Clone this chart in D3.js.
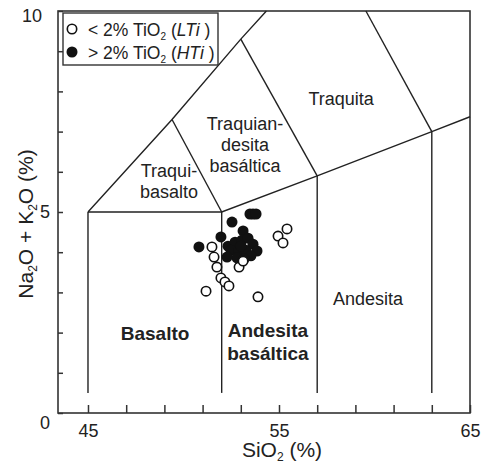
<!DOCTYPE html>
<html>
<head>
<meta charset="utf-8">
<script src="https://cdn.jsdelivr.net/npm/d3@7"></script>
<style>
    body { margin: 0; background: #fff; }
    text { font-family: Arial, 'Liberation Sans', sans-serif; fill: #222; }
</style>
</head>
<body>
<script>
    // samples, SiO2 (%) vs Na2O + K2O (%)
    const ltiSiO2 = [51.49, 51.60, 51.75, 51.96, 52.17, 52.38, 51.18, 52.91, 53.12, 53.90, 54.95, 55.21, 55.42];
    const ltiAlk  = [4.13, 3.88, 3.63, 3.36, 3.26, 3.16, 3.03, 3.63, 3.78, 2.89, 4.40, 4.23, 4.58];
    const htiSiO2 = [53.48, 53.64, 53.80, 52.54, 51.96, 50.81, 53.12, 52.33, 52.70, 53.06, 53.38,
                     53.64, 53.85, 52.49, 52.91, 53.27, 53.53, 52.80, 53.17, 52.28, 53.01];
    const htiAlk  = [4.95, 4.95, 4.95, 4.75, 4.38, 4.13, 4.53, 4.15, 4.25, 4.30, 4.35,
                     4.20, 4.03, 4.05, 4.03, 4.05, 3.91, 3.86, 3.83, 3.88, 4.15];

    // TAS field boundaries (SiO2, alkalis)
    const fieldLines = [
        [[45, 0.5], [45, 5]],
        [[52, 0.5], [52, 5]],
        [[57, 0.5], [57, 5.9]],
        [[63, 0.5], [63, 7]],
        [[45, 5], [52, 5], [57, 5.9], [63, 7], [65, 7.37]],
        [[45, 5], [49.4, 7.3], [53, 9.3], [54.34, 10]],
        [[52, 5], [49.4, 7.3]],
        [[57, 5.9], [53, 9.3]],
        [[63, 7], [59.55, 10]]
    ];

    const fieldNames = [['Traqui-', 'basalto'], ['Traquian-', 'desita', 'basáltica'], ['Traquita'],
                        ['Andesita'], ['Basalto'], ['Andesita', 'basáltica']];
    const fieldBold = [false, false, false, false, true, true];
    const fieldAt = [[49.24, 5.87], [53.22, 7.04], [58.25, 7.66], [59.66, 2.69], [48.51, 1.82], [54.42, 1.89]];

    const xTicks = d3.range(45, 66, 2);
    const xLabels = [45, 55, 65];
    const yTicks = d3.range(0, 11, 1);
    const yLabels = [0, 5, 10];

    const measurements = { width: 482, height: 468 };

    let svg = d3.select('body')
        .append('svg')
        .attr('width', measurements.width)
        .attr('height', measurements.height);

    let x = d3.scaleLinear().domain([43.43, 65]).range([58, 470]);
    let y = d3.scaleLinear().domain([0, 10]).range([413, 11]);

    // x axis, ticks pointing inward
    let xAxis = svg.append('g')
        .attr('transform', 'translate(0,' + y(0) + ')')
        .call(d3.axisBottom(x)
            .tickValues(xTicks)
            .tickSize(-8)
            .tickPadding(11)
            .tickFormat(d => xLabels.includes(d) ? d : ''));
    xAxis.select('.domain').remove();
    xAxis.selectAll('line').attr('stroke', '#333').attr('stroke-width', 1.5);
    xAxis.selectAll('text').attr('font-size', 18).attr('fill', '#222')
        .attr('font-family', 'Arial, Liberation Sans, sans-serif');

    let yAxis = svg.append('g')
        .attr('transform', 'translate(' + x.range()[0] + ',0)')
        .call(d3.axisLeft(y)
            .tickValues(yTicks)
            .tickSize(-5)
            .tickPadding(8)
            .tickFormat(d => yLabels.includes(d) ? d : ''));
    yAxis.select('.domain').remove();
    yAxis.selectAll('line').attr('stroke', '#333').attr('stroke-width', 1.5);
    yAxis.selectAll('text').attr('font-size', 18).attr('fill', '#222')
        .attr('font-family', 'Arial, Liberation Sans, sans-serif');
    // nudge the end labels the way the original sits them
    yAxis.selectAll('.tick').filter(d => d === 0).select('text').attr('y', 10);
    yAxis.selectAll('.tick').filter(d => d === 10).select('text').attr('y', 5).attr('x', -16);

    // frame
    svg.append('rect')
        .attr('x', x.range()[0])
        .attr('y', y.range()[1])
        .attr('width', x.range()[1] - x.range()[0])
        .attr('height', y.range()[0] - y.range()[1])
        .attr('fill', 'none')
        .attr('stroke', '#333')
        .attr('stroke-width', 1.6);

    // field boundaries
    let line = d3.line().x(d => x(d[0])).y(d => y(d[1]));
    svg.append('g').selectAll('path')
        .data(fieldLines)
        .enter()
        .append('path')
        .attr('d', line)
        .attr('fill', 'none')
        .attr('stroke', '#222')
        .attr('stroke-width', 1.4);

    // field names
    let names = svg.append('g').selectAll('text')
        .data(fieldNames)
        .enter()
        .append('text')
        .attr('text-anchor', 'middle')
        .attr('font-size', (d, i) => fieldBold[i] ? 19 : 18)
        .attr('font-weight', (d, i) => fieldBold[i] ? 'bold' : 'normal')
        .attr('x', (d, i) => x(fieldAt[i][0]))
        .attr('y', (d, i) => y(fieldAt[i][1]));
    names.each(function(d, i) {
        let t = d3.select(this);
        d.forEach((s, k) => {
            t.append('tspan')
                .attr('x', x(fieldAt[i][0]))
                .attr('dy', k === 0 ? 0 : (fieldBold[i] ? 23 : 21))
                .text(s);
        });
    });

    // samples
    let hti = htiSiO2.map((v, i) => [v, htiAlk[i]]);
    let lti = ltiSiO2.map((v, i) => [v, ltiAlk[i]]);

    svg.append('g').selectAll('circle')
        .data(hti)
        .enter()
        .append('circle')
        .attr('cx', d => x(d[0]))
        .attr('cy', d => y(d[1]))
        .attr('r', 5.5)
        .attr('fill', '#111');

    svg.append('g').selectAll('circle')
        .data(lti)
        .enter()
        .append('circle')
        .attr('cx', d => x(d[0]))
        .attr('cy', d => y(d[1]))
        .attr('r', 4.7)
        .attr('fill', '#fff')
        .attr('stroke', '#111')
        .attr('stroke-width', 1.6);

    // legend
    let legend = svg.append('g');
    legend.append('rect')
        .attr('x', 63).attr('y', 13)
        .attr('width', 155).attr('height', 52)
        .attr('fill', '#fff')
        .attr('stroke', '#333')
        .attr('stroke-width', 1.4);
    legend.append('circle').attr('cx', 72).attr('cy', 29).attr('r', 4.7)
        .attr('fill', '#fff').attr('stroke', '#111').attr('stroke-width', 1.6);
    legend.append('circle').attr('cx', 72).attr('cy', 52).attr('r', 5.5).attr('fill', '#111');

    let legendText = [['< 2% TiO', 'LTi'], ['> 2% TiO', 'HTi']];
    legendText.forEach((p, i) => {
        let t = legend.append('text').attr('x', 88).attr('y', 36 + i * 22.5).attr('font-size', 17.5);
        t.append('tspan').text(p[0]);
        t.append('tspan').attr('font-size', 10).attr('dy', 4).text('2');
        t.append('tspan').attr('dy', -4).text(' (');
        t.append('tspan').attr('font-style', 'italic').text(p[1]);
        t.append('tspan').text(' )');
    });

    // axis titles
    let xt = svg.append('text')
        .attr('text-anchor', 'middle')
        .attr('x', 282).attr('y', 457)
        .attr('font-size', 21);
    xt.append('tspan').text('SiO');
    xt.append('tspan').attr('font-size', 12).attr('dy', 4).text('2');
    xt.append('tspan').attr('dy', -4).text(' (%)');

    let yt = svg.append('text')
        .attr('text-anchor', 'middle')
        .attr('transform', 'translate(33,224) rotate(-90)')
        .attr('font-size', 21);
    yt.append('tspan').text('Na');
    yt.append('tspan').attr('font-size', 12).attr('dy', 4).text('2');
    yt.append('tspan').attr('dy', -4).text('O + K');
    yt.append('tspan').attr('font-size', 12).attr('dy', 4).text('2');
    yt.append('tspan').attr('dy', -4).text('O (%)');
</script>
</body>
</html>
